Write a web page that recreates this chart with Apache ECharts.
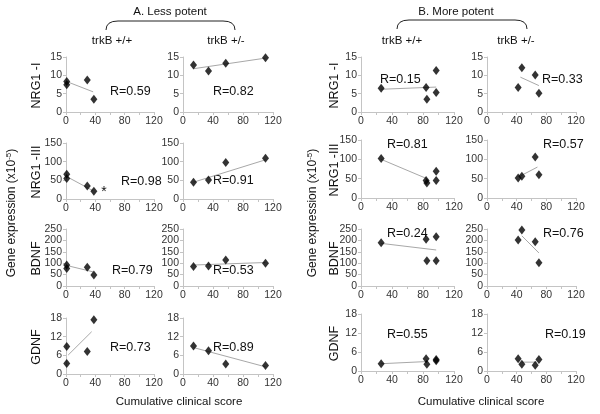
<!DOCTYPE html>
<html><head><meta charset="utf-8">
<script src="https://cdn.jsdelivr.net/npm/echarts@6/dist/echarts.min.js"></script>
<style>html,body{margin:0;padding:0;background:#fff}#c{width:600px;height:414px}</style>
</head><body><div id="c"></div>
<script>
// Clinical score (x) per group
const xLessWT = [1, 1, 29, 38];
const xLessHet = [14, 34, 57, 110];
const xMoreWT = [26, 84, 85, 97, 97];
const xMoreHet = [42, 47, 65, 70];

// Gene expression values (y) per panel
const nrg1I_lessWT = [8.3, 7.4, 8.7, 3.5];
const nrg1I_lessHet = [12.8, 11.2, 13.3, 14.8];
const nrg1I_moreWT = [6.5, 6.7, 3.5, 11.3, 5.3];
const nrg1I_moreHet = [6.7, 12.1, 10.1, 5.1];

const nrg1III_lessWT = [66, 55, 35, 21];
const nrg1III_lessHet = [45, 51, 98, 109];
const nrg1III_moreWT = [102, 45, 39, 69, 45];
const nrg1III_moreHet = [52, 56, 106, 60];

const bdnf_lessWT = [92, 77, 82, 48];
const bdnf_lessHet = [85, 88, 114, 100];
const bdnf_moreWT = [190, 205, 111, 216, 111];
const bdnf_moreHet = [202, 246, 194, 102];

const gdnf_lessWT = [8.8, 3.4, 7.2, 17.4];
const gdnf_lessHet = [9.0, 7.5, 3.2, 2.7];
const gdnf_moreWT = [2.3, 3.9, 2.1, 3.6, 3.2];
const gdnf_moreHet = [3.9, 2.1, 1.8, 3.6];

// Trend line endpoints [x1, y1, x2, y2]
const trend_nrg1I = [[1, 8.3, 37, 5.5], [14, 11.8, 110, 14.7], [26, 6.2, 97, 6.8], [45, 9.5, 70, 7.2]];
const trend_nrg1III = [[1, 60, 37, 22], [14, 45, 110, 105], [26, 100, 85, 50], [45, 57, 68, 80]];
const trend_bdnf = [[1, 90, 37, 62], [14, 92, 110, 103], [26, 187, 97, 158], [47, 220, 70, 145]];
const trend_gdnf = [[3, 6.1, 35, 13.6], [14, 8.5, 110, 2.3], [26, 2.3, 86, 3.0], [47, 2.8, 67, 2.8]];

// R values
const rLabels = [
  ['R=0.59', 'R=0.82', 'R=0.15', 'R=0.33'],
  ['R=0.98', 'R=0.91', 'R=0.81', 'R=0.57'],
  ['R=0.79', 'R=0.53', 'R=0.24', 'R=0.76'],
  ['R=0.73', 'R=0.89', 'R=0.55', 'R=0.19']
];
const geneNames = ['NRG1 -I', 'NRG1 -III', 'BDNF', 'GDNF'];
const yMax = [15, 150, 250, 18];
const yInterval = [5, 50, 50, 6];
const xTicks = [0, 40, 80, 120];

const xGroups = [xLessWT, xLessHet, xMoreWT, xMoreHet];
const yRows = [
  [nrg1I_lessWT, nrg1I_lessHet, nrg1I_moreWT, nrg1I_moreHet],
  [nrg1III_lessWT, nrg1III_lessHet, nrg1III_moreWT, nrg1III_moreHet],
  [bdnf_lessWT, bdnf_lessHet, bdnf_moreWT, bdnf_moreHet],
  [gdnf_lessWT, gdnf_lessHet, gdnf_moreWT, gdnf_moreHet]
];
const trends = [trend_nrg1I, trend_nrg1III, trend_bdnf, trend_gdnf];

// layout
const colLeft = [66, 183, 361, 487];
const colWidth = [88, 90, 93, 89];
const rowTopL = [57, 143, 229, 318], rowHL = [55, 56, 57, 56];
const rowTopR = [57, 140, 229, 314], rowHR = [55, 58, 57, 57];
const rPos = [
  [[110, 92], [213, 92], [380, 80], [542, 80]],
  [[121, 182], [213, 181], [387, 145], [543, 145]],
  [[112, 271], [213, 271], [387, 234], [543, 234]],
  [[110, 348], [213, 348], [387, 335], [545, 335]]
];

const FONT = '"Liberation Sans", Arial, sans-serif';
const axisCol = '#c4c4c4';
const grid = [], xAxis = [], yAxis = [], series = [], graphic = [];
let idx = 0;
for (let r = 0; r < 4; r++) {
  for (let c = 0; c < 4; c++) {
    const right = c >= 2;
    grid.push({left: colLeft[c], width: colWidth[c], top: right ? rowTopR[r] : rowTopL[r], height: right ? rowHR[r] : rowHL[r]});
    xAxis.push({gridIndex: idx, type: 'value', min: 0, max: 120, interval: 40,
      axisLine: {show: true, lineStyle: {color: axisCol}},
      axisTick: {show: true, length: 3, lineStyle: {color: axisCol}},
      minorTick: {show: true, splitNumber: 2, length: 3, lineStyle: {color: axisCol}},
      splitLine: {show: false},
      axisLabel: {fontSize: 10.5, color: '#333', fontFamily: FONT, margin: 4}});
    yAxis.push({gridIndex: idx, type: 'value', min: 0, max: yMax[r], interval: yInterval[r],
      axisLine: {show: true, lineStyle: {color: axisCol}},
      axisTick: {show: true, length: 3, lineStyle: {color: axisCol}},
      splitLine: {show: false},
      axisLabel: {fontSize: 10.5, color: '#333', fontFamily: FONT, margin: 4}});
    const t = trends[r][c];
    series.push({type: 'line', xAxisIndex: idx, yAxisIndex: idx, data: [[t[0], t[1]], [t[2], t[3]]],
      symbol: 'none', silent: true, lineStyle: {color: '#a8a8a8', width: 1}, z: 1});
    const xs = xGroups[c], ys = yRows[r][c];
    series.push({type: 'scatter', xAxisIndex: idx, yAxisIndex: idx, data: ys.map((v, i) => [xs[i], v]),
      symbol: 'diamond', symbolSize: [7, 9], clip: false, itemStyle: {color: '#000'}, z: 3});
    graphic.push({type: 'text', x: rPos[r][c][0], y: rPos[r][c][1],
      style: {text: rLabels[r][c], fontSize: 12.5, fill: '#111', fontFamily: FONT, verticalAlign: 'middle'}});
    idx++;
  }
  graphic.push({type: 'text', x: 37, y: rowTopL[r] + rowHL[r] / 2 + 1, rotation: Math.PI / 2,
    style: {text: geneNames[r], fontSize: 12.5, fill: '#111', fontFamily: FONT, align: 'center', verticalAlign: 'middle'}});
  graphic.push({type: 'text', x: 335, y: rowTopR[r] + rowHR[r] / 2 + 1, rotation: Math.PI / 2,
    style: {text: geneNames[r], fontSize: 12.5, fill: '#111', fontFamily: FONT, align: 'center', verticalAlign: 'middle'}});
}
graphic.push({type: 'text', x: 104, y: 192, style: {text: '*', fontSize: 14, fill: '#111', fontFamily: FONT, align: 'center', verticalAlign: 'middle'}});
const hdr = (txt, x, y, fs) => ({type: 'text', x: x, y: y, style: {text: txt, fontSize: fs, fill: '#111', fontFamily: FONT, align: 'center', verticalAlign: 'middle'}});
graphic.push(hdr('A. Less potent', 170, 12, 11.5));
graphic.push(hdr('B. More potent', 456, 12, 11.5));
graphic.push(hdr('trkB +/+', 112, 41, 11.5));
graphic.push(hdr('trkB +/-', 226, 41, 11.5));
graphic.push(hdr('trkB +/+', 402, 41, 11.5));
graphic.push(hdr('trkB +/-', 516, 41, 11.5));
graphic.push(hdr('Cumulative clinical score', 179, 402, 11.5));
graphic.push(hdr('Cumulative clinical score', 481, 402, 11.5));
// braces
const brace = (x1, x2, yTop, yBot) => {
  const st = {stroke: '#222', lineWidth: 1, fill: 'none'};
  return [
    {type: 'bezierCurve', shape: {x1: x1, y1: yBot, cpx1: x1, cpy1: yTop, x2: x1 + 12, y2: yTop}, style: st},
    {type: 'line', shape: {x1: x1 + 12, y1: yTop, x2: x2 - 12, y2: yTop}, style: st},
    {type: 'bezierCurve', shape: {x1: x2 - 12, y1: yTop, cpx1: x2, cpy1: yTop, x2: x2, y2: yBot}, style: st}
  ];
};
brace(106, 235, 21, 30).forEach(g => graphic.push(g));
brace(397, 527, 20, 29).forEach(g => graphic.push(g));
const gene = (x) => ({type: 'text', x: x, y: 213, rotation: Math.PI / 2,
  style: {text: 'Gene expression (x10{s|-5})', fontSize: 12, fill: '#111', fontFamily: FONT, align: 'center', verticalAlign: 'middle',
    rich: {s: {fontSize: 8, fill: '#111', fontFamily: FONT, verticalAlign: 'top', lineHeight: 14}}}});
graphic.push(gene(12));
graphic.push(gene(313));

const chart = echarts.init(document.getElementById('c'), null, {renderer: 'canvas'});
chart.setOption({animation: false, backgroundColor: '#fff', grid, xAxis, yAxis, series, graphic});
</script></body></html>
